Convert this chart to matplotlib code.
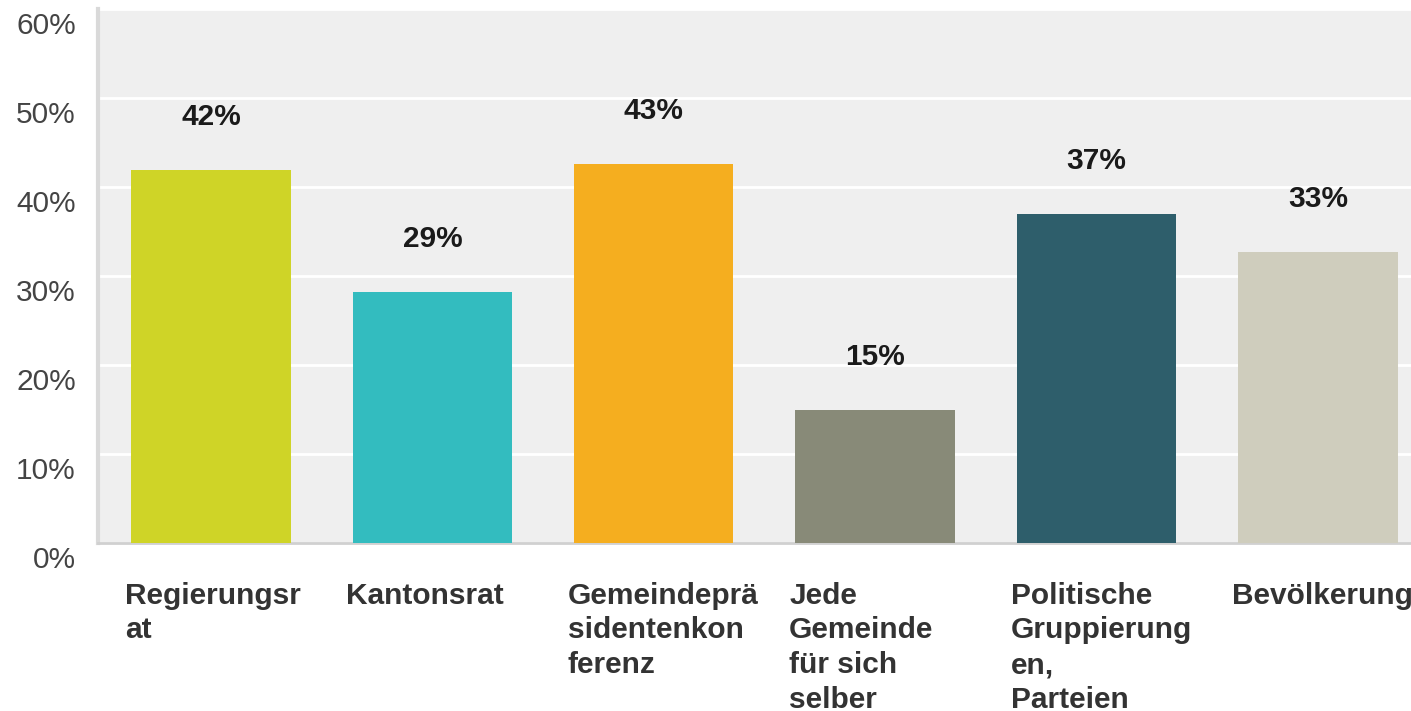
import matplotlib
matplotlib.use("Agg")
import matplotlib.pyplot as plt
from matplotlib.transforms import ScaledTranslation

categories = ["Regierungsr\nat", "Kantonsrat", "Gemeindeprä\nsidentenkon\nferenz",
              "Jede\nGemeinde\nfür sich\nselber", "Politische\nGruppierung\nen,\nParteien",
              "Bevölkerung"]
values = [41.9, 28.2, 42.6, 15, 37, 32.7]
value_labels = ["42%", "29%", "43%", "15%", "37%", "33%"]
colors = ["#cfd427", "#33bcbf", "#f5ae1f", "#888a78", "#2e5e6b", "#cfcdbd"]
yticks = [0, 10, 20, 30, 40, 50, 60]
ytick_labels = ["0%", "10%", "20%", "30%", "40%", "50%", "60%"]

plt.rcParams['font.family'] = ['Liberation Sans', 'DejaVu Sans']

fig = plt.figure(figsize=(14.11, 7.11), dpi=100)
ax = fig.add_axes([98/1411, 168/711, 1 - 98/1411, (543-9)/711])
ax.set_facecolor("#efefef")

x = list(range(len(categories)))
bars = ax.bar(x, values, width=0.72, color=colors, zorder=3)
ax.set_xlim(-0.51, 5.42)
ax.set_ylim(0, 60)

ax.set_yticks(yticks)
ax.set_yticklabels(ytick_labels, fontsize=21.5, color="#444444")
ax.tick_params(axis='y', length=0, pad=16)
for lab in ax.get_yticklabels():
    lab.set_transform(lab.get_transform() + ScaledTranslation(0, -0.14, fig.dpi_scale_trans))

ax.set_xticks(x)
ax.set_xticklabels(categories, fontsize=21.5, fontweight='bold', color="#333333",
                   ha='left', va='top', linespacing=1.3)
ax.tick_params(axis='x', length=0, pad=28)
for lab in ax.get_xticklabels():
    lab.set_transform(lab.get_transform() + ScaledTranslation(-0.86, 0, fig.dpi_scale_trans))

ax.grid(axis='y', color='white', linewidth=2, zorder=1)
ax.set_axisbelow(True)

for s in ['top', 'right']:
    ax.spines[s].set_visible(False)
ax.spines['left'].set_color('#d9d9d9')
ax.spines['left'].set_linewidth(3)
ax.spines['bottom'].set_color('#d0d0d0')
ax.spines['bottom'].set_linewidth(2)

for b, lbl in zip(bars, value_labels):
    ax.annotate(lbl, (b.get_x() + b.get_width()/2, b.get_height()),
                xytext=(0, 28), textcoords='offset points', ha='center', va='bottom',
                fontsize=21.5, fontweight='bold', color='#1a1a1a')

fig.savefig("out.png", dpi=100)
